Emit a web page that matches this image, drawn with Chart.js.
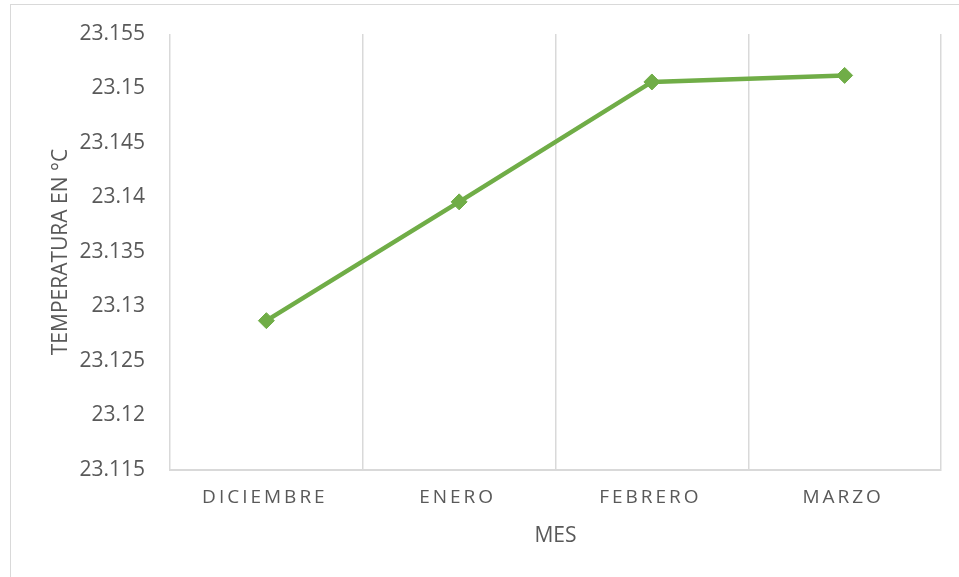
<!DOCTYPE html>
<html>
<head>
<meta charset="utf-8">
<script src="https://cdn.jsdelivr.net/npm/chart.js@4"></script>
<style>
  html, body { margin: 0; padding: 0; background: #fff; overflow: hidden; }
  #marco { position: absolute; left: 10px; top: 4px; width: 960px; height: 580px;
           border-left: 1px solid #d9d9d9; border-top: 1px solid #d9d9d9; }
  #contenedor { position: absolute; left: 0; top: 0; width: 959px; height: 577px; }
</style>
</head>
<body>
<div id="marco"></div>
<div id="contenedor"><canvas id="grafico"></canvas></div>
<script>
// --- Datos ---
const meses = ['DICIEMBRE', 'ENERO', 'FEBRERO', 'MARZO'];
const temperaturas = [23.1287, 23.1396, 23.1506, 23.1512];
const yMin = 23.115;
const yMax = 23.155;
const yPaso = 0.005;

const GRIS_TEXTO = '#595959';
const GRIS_LINEA = '#d9d9d9';
const VERDE = '#70ad47';
const FUENTE = "'Open Sans', 'Noto Sans', sans-serif";

// Espaciado de letras solo para las etiquetas del eje X
const espacioLetras = {
    id: 'espacioLetras',
    beforeDraw(chart) {
        const x = chart.scales.x;
        if (!x || x._conEspacio) return;
        const original = x.drawLabels;
        x.drawLabels = function (area) {
            this.ctx.save();
            this.ctx.letterSpacing = '3px';
            this.ctx.translate(-1.5, 0); // compensa el espacio final
            original.call(this, area);
            this.ctx.restore();
        };
        x._conEspacio = true;
    }
};

const ctx = document.getElementById('grafico').getContext('2d');
new Chart(ctx, {
    type: 'line',
    data: {
        labels: meses,
        datasets: [{
            data: temperaturas,
            borderColor: VERDE,
            backgroundColor: VERDE,
            borderWidth: 4.5,
            pointStyle: 'rectRot',
            pointRadius: 8,
            pointBorderWidth: 1,
            pointBackgroundColor: VERDE,
            pointBorderColor: VERDE,
            tension: 0
        }]
    },
    options: {
        responsive: true,
        maintainAspectRatio: false,
        animation: false,
        layout: { padding: { left: 10, right: 18, top: 34, bottom: 0 } },
        plugins: {
            legend: { display: false },
            tooltip: { enabled: false }
        },
        scales: {
            x: {
                offset: true,
                grid: { display: true, offset: true, color: GRIS_LINEA, lineWidth: 1.5, drawTicks: false },
                border: { display: true, color: GRIS_LINEA, width: 2 },
                ticks: { color: GRIS_TEXTO, font: { family: FUENTE, size: 19 }, padding: 16, maxRotation: 0 },
                title: { display: true, text: 'MES', color: GRIS_TEXTO,
                         font: { family: FUENTE, size: 21 }, padding: { top: 6, bottom: 28 } },
                afterFit: s => { s.height = 107; }
            },
            y: {
                min: yMin,
                max: yMax,
                grid: { display: false },
                border: { display: false },
                ticks: {
                    stepSize: yPaso,
                    color: GRIS_TEXTO,
                    font: { family: FUENTE, size: 21 },
                    padding: 17,
                    callback: v => String(+v.toFixed(3))
                },
                title: { display: true, text: 'TEMPERATURA EN °C', color: GRIS_TEXTO,
                         font: { family: FUENTE, size: 21 }, padding: { top: 38, bottom: 0 } },
                afterFit: s => { s.width = 160; }
            }
        }
    },
    plugins: [espacioLetras]
});
</script>
</body>
</html>
